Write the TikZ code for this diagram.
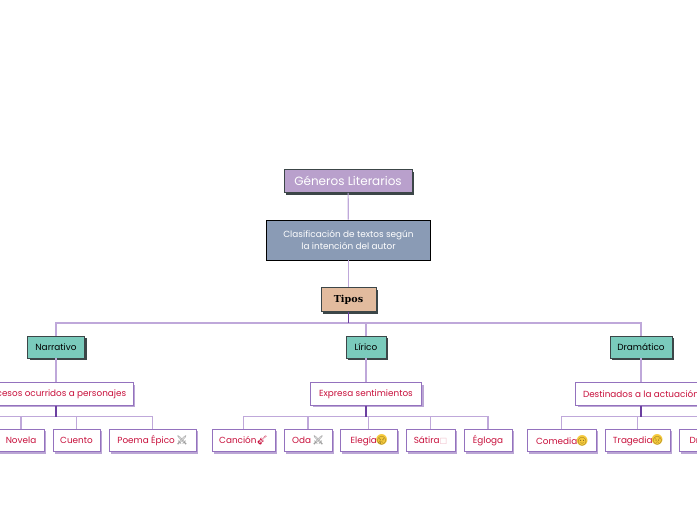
\documentclass[tikz,border=0pt]{standalone}
\usepackage{fontspec}
\setmainfont{Poppins}
\newfontfamily\emj{Noto Emoji}
\newfontfamily\dejavu{DejaVu Sans}
\newfontfamily\slabfont{DejaVu Serif}
\usetikzlibrary{positioning, shadows}

\definecolor{topfill}{HTML}{B9A0CC}
\definecolor{defnfill}{HTML}{8A9BB5}
\definecolor{tiposfill}{HTML}{E2BB9E}
\definecolor{genrefill}{HTML}{7ACBBC}
\definecolor{darkedge}{HTML}{3C4648}
\definecolor{stemlight}{HTML}{BFA8DA}
\definecolor{stemdark}{HTML}{6B3FA0}
\definecolor{leafline}{HTML}{9472BE}
\definecolor{leafshadow}{HTML}{BBA6D5}
\definecolor{leaftext}{HTML}{C8103C}
\definecolor{facefill}{HTML}{F5C93A}

% small colour glyphs after the leaf labels
\newcommand{\swordicon}{\,{\emj\textcolor{gray}{⚔}}}
\newcommand{\guitaricon}{{\emj\textcolor{leaftext}{🎸}}}
\newcommand{\faceicon}[1]{\makebox[9.5pt]{\makebox[0pt]{\fontsize{14}{14}\selectfont\textcolor{facefill}{\dejavu\char"25CF}}\makebox[0pt]{\fontsize{8}{8}\selectfont\emj\textcolor{black!60!facefill}{#1}}}}

\tikzset{
  darkbox/.style={rectangle, draw=darkedge, line width=0.8pt, copy shadow={shadow xshift=2pt, shadow yshift=-2pt, fill=darkedge, draw=none}, inner sep=0pt, align=center},
  titlebox/.style={darkbox, fill=topfill, text=white, minimum width=128pt, minimum height=23pt, font=\fontsize{12}{14}\selectfont},
  defnbox/.style={rectangle, draw=black, line width=0.8pt, fill=defnfill, text=white, inner sep=0pt, align=center, minimum width=164pt, minimum height=40pt, font=\fontsize{8.9}{12}\selectfont},
  tiposbox/.style={darkbox, fill=tiposfill, minimum width=55pt, minimum height=24pt, font=\slabfont\bfseries\fontsize{9.6}{11}\selectfont},
  genrebox/.style={darkbox, fill=genrefill, minimum height=22pt, font=\fontsize{8.9}{10}\selectfont},
  leafbox/.style={rectangle, draw=leafline, line width=0.8pt, fill=white, text=leaftext, copy shadow={shadow xshift=2.2pt, shadow yshift=-2.2pt, fill=leafshadow, draw=none}, inner sep=0pt, minimum height=22.5pt, font=\fontsize{8.85}{10}\selectfont},
  stem/.style={draw=stemlight, line width=1.2pt},
  stub/.style={draw=stemdark, line width=1.2pt}
}

\begin{document}
\begin{tikzpicture}[x=1pt, y=-1pt]
  \useasboundingbox (0,0) rectangle (697,520);
  \clip (0,0) rectangle (697,520);

  % upper column
  \node[titlebox] (titulo) at (348,181) {Géneros Literarios};
  \node[defnbox] (clasif) at (348.5,240) {Clasificación de textos según\\ la intención del autor};
  \node[tiposbox] (tipos) at (348.5,299.5) {Tipos};
  \coordinate (busmain) at (348.5,323);

  % three kinds of text
  \node[genrebox, minimum width=57pt] (narrativo) at (56,347) {Narrativo};
  \node[genrebox, minimum width=40pt] (lirico) at (366,347) {Lírico};
  \node[genrebox, minimum width=62pt] (dramatico) at (641,347) {Dramático};

  \node[leafbox, minimum width=154pt] (sucesos) at (56,394) {Sucesos ocurridos a personajes};
  \node[leafbox, minimum width=111pt] (expresa) at (366,394) {Expresa sentimientos};
  \node[leafbox, minimum width=131pt] (destinados) at (641,394) {Destinados a la actuación};

  \coordinate (busnarr) at (56,416.5);
  \coordinate (buslir) at (366,416.5);
  \coordinate (busdram) at (641,416.5);
  \coordinate (offleft) at (-10,416.5);
  \coordinate (offright) at (720,416.5);

  % leaves
  \node[leafbox, minimum width=46pt] (novela) at (21,440.5) {Novela};
  \node[leafbox, minimum width=47pt] (cuento) at (76.5,440.5) {Cuento};
  \node[leafbox, minimum width=87pt] (poema) at (152.5,440.5) {Poema Épico\swordicon};

  \node[leafbox, minimum width=63pt] (cancion) at (243.5,440.5) {Canción\guitaricon};
  \node[leafbox, minimum width=48pt] (oda) at (308,440.5) {Oda\swordicon};
  \node[leafbox, minimum width=57pt] (elegia) at (368.5,440.5) {Elegía\faceicon{😢}};
  \node[leafbox, minimum width=49pt] (satira) at (430.5,440.5) {Sátira{\dejavu\fontsize{8}{8}\selectfont\textcolor{leaftext!30}{□}}};
  \node[leafbox, minimum width=48pt] (egloga) at (488,440.5) {Égloga};

  \node[leafbox, minimum width=69pt] (comedia) at (561.5,440.5) {Comedia\faceicon{🙂}};
  \node[leafbox, minimum width=65pt] (tragedia) at (637.5,440.5) {Tragedia\faceicon{😟}};
  \node[leafbox, minimum width=52pt] (drama) at (705,440.5) {Drama};

  % connectors
  \draw[stem] (titulo) -- (clasif);
  \draw[stem] (clasif) -- (tipos);
  \draw[stem] (busmain) -| (narrativo.north);
  \draw[stem] (busmain) -| (lirico.north);
  \draw[stem] (busmain) -| (dramatico.north);
  \draw[stub] (tipos) -- (busmain);

  \foreach \genre/\desc in {narrativo/sucesos, lirico/expresa, dramatico/destinados}
    \draw[stem] (\genre) -- (\desc);

  \foreach \leaf in {novela, cuento, poema}
    \draw[stem] (busnarr) -| (\leaf.north);
  \draw[stem] (busnarr) -- (offleft);
  \draw[stub] (sucesos) -- (busnarr);

  \foreach \leaf in {cancion, oda, elegia, satira, egloga}
    \draw[stem] (buslir) -| (\leaf.north);
  \draw[stub] (expresa) -- (buslir);

  \foreach \leaf in {comedia, tragedia}
    \draw[stem] (busdram) -| (\leaf.north);
  \draw[stem] (busdram) -- (offright);
  \draw[stub] (destinados) -- (busdram);
\end{tikzpicture}
\end{document}
